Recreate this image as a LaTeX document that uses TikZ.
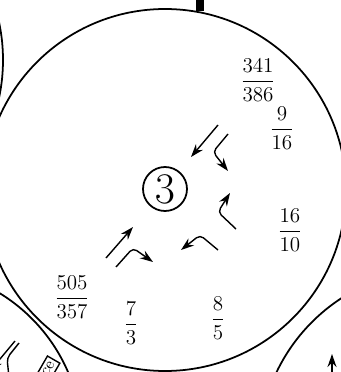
\documentclass[tikz,border=0pt]{standalone}
\usepackage{amsmath,amssymb}
\usepackage{tikz}
\usetikzlibrary{arrows.meta,calc}
\tikzset{frc/.style={draw=none, fill=none, minimum size=0pt,
  inner sep=1pt, font=\large}}

\begin{document}
\begin{tikzpicture}[every node/.style={circle, draw, inner sep=0pt},
  >={Stealth[length=2.6mm, width=1.8mm]}, thick,
  bnode/.style={line width=1pt, minimum size=7.24cm},
  mv/.style={->, rounded corners=2.5pt}]
  \useasboundingbox (0,0) rectangle (6.82,7.44);
  % subtree circles (neighbours cut off by the frame)
  \node[bnode] (big) at (3.30, 3.64) {};
  \node[bnode] (left) at (-3.56, 6.24) {};
  \node[bnode, minimum size=6.88cm] (bleft) at (-1.80, -1.36) {};
  \node[bnode] (bright) at (8.80, -1.56) {};
  \node[line width=1pt, minimum size=8.8mm, font=\Huge] (root) at (3.30, 3.66) {$3$};
  % edge from the parent
  \coordinate (up) at ($(big.79) + (0, 0.6)$);
  \draw[line width=4.5pt] (up) -- (big.79);
  % moves
  \coordinate (a1s) at (4.36, 4.94); \coordinate (a1e) at (3.82, 4.30);
  \coordinate (a2s) at (4.56, 4.76); \coordinate (a2b) at (4.26, 4.40);
  \coordinate (a2e) at (4.56, 4.02);
  \coordinate (a3s) at (4.72, 2.86); \coordinate (a3b) at (4.36, 3.20);
  \coordinate (a3e) at (4.60, 3.58);
  \coordinate (a4s) at (4.36, 2.44); \coordinate (a4b) at (4.00, 2.74);
  \coordinate (a4e) at (3.62, 2.44);
  \coordinate (a5s) at (2.12, 2.28); \coordinate (a5e) at (2.66, 2.90);
  \coordinate (a6s) at (2.32, 2.10); \coordinate (a6b) at (2.66, 2.48);
  \coordinate (a6e) at (3.06, 2.20);
  \draw[->] (a1s) -- (a1e);
  \draw[mv] (a2s) -- (a2b) -- (a2e);
  \draw[mv] (a3s) -- (a3b) -- (a3e);
  \draw[mv] (a4s) -- (a4b) -- (a4e);
  \draw[->] (a5s) -- (a5e);
  \draw[mv] (a6s) -- (a6b) -- (a6e);
  % scores
  \node[frc] (s1) at (5.16, 5.84) {$\dfrac{341}{386}$};
  \node[frc] (s2) at (5.64, 4.88) {$\dfrac{9}{16}$};
  \node[frc] (s3) at (5.80, 2.84) {$\dfrac{16}{10}$};
  \node[frc] (s4) at (1.44, 1.50) {$\dfrac{505}{357}$};
  \node[frc] (s5) at (2.62, 0.98) {$\dfrac{7}{3}$};
  \node[frc] (s6) at (4.36, 1.08) {$\dfrac{8}{5}$};
  % bits of the neighbouring subtrees
  \coordinate (b1s) at (0.30, 0.62); \coordinate (b1e) at (-0.20, 0.02);
  \coordinate (b2s) at (0.38, 0.58); \coordinate (b2b) at (0.14, 0.28);
  \coordinate (b2e) at (0.20, -0.30);
  \draw[->] (b1s) -- (b1e);
  \draw[mv] (b2s) -- (b2b) -- (b2e);
  \node[rectangle, draw, rotate=60, anchor=east, inner sep=2pt,
    font=\small] (src) at (1.08, 0.26) {rce};
  \coordinate (c1s) at (6.64, -0.30); \coordinate (c1e) at (6.64, 0.36);
  \draw[->] (c1s) -- (c1e);
\end{tikzpicture}
\end{document}
